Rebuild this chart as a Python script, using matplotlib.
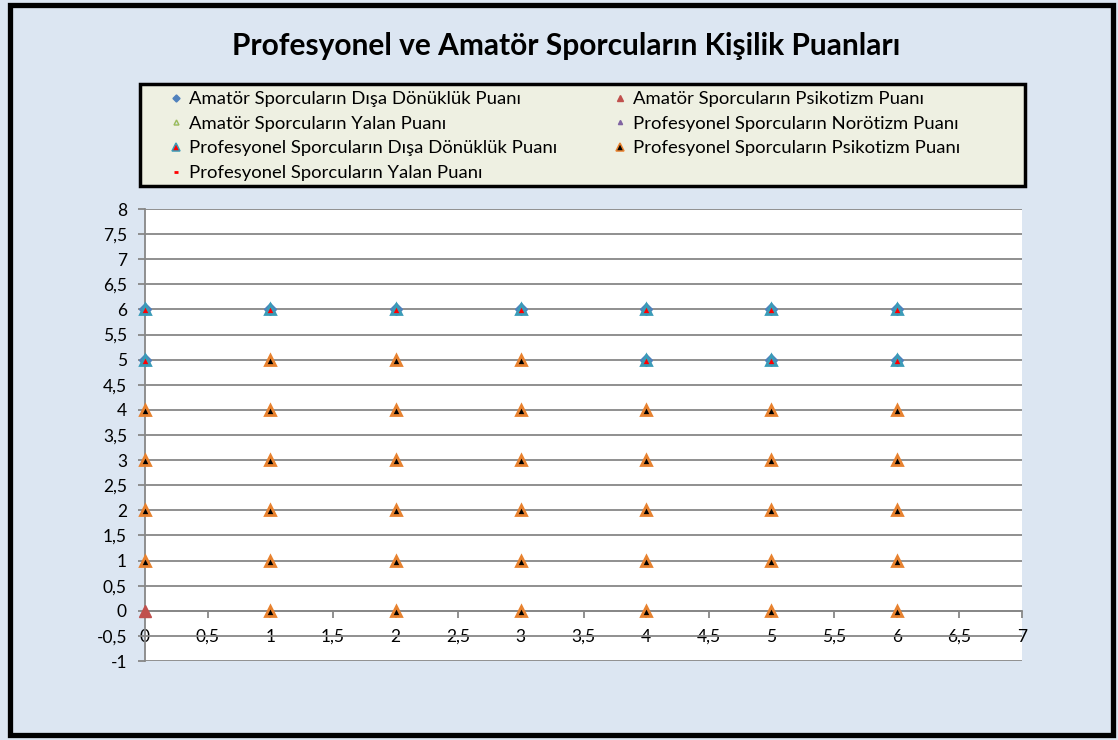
import matplotlib
matplotlib.use("Agg")
import matplotlib.pyplot as plt
from matplotlib.patches import Rectangle
from matplotlib.ticker import MultipleLocator, FuncFormatter

plt.rcParams['font.family'] = ['Lato', 'DejaVu Sans']

title = "Profesyonel ve Amatör Sporcuların Kişilik Puanları"

# series (x = value, y = score)
amator_disa_x = [0, 1, 2, 3, 4, 5, 6, 0, 4, 5, 6]
amator_disa_y = [6, 6, 6, 6, 6, 6, 6, 5, 5, 5, 5]

amator_psik_x = [0]
amator_psik_y = [0]

amator_yalan_x = [0, 1, 2, 3, 4, 5, 6]
amator_yalan_y = [1, 1, 1, 1, 1, 1, 1]

pro_noro_x = [0, 1, 2, 3, 4, 5, 6]
pro_noro_y = [3, 3, 3, 3, 3, 3, 3]

pro_disa_x = [0, 1, 2, 3, 4, 5, 6, 0, 4, 5, 6]
pro_disa_y = [6, 6, 6, 6, 6, 6, 6, 5, 5, 5, 5]

pro_psik_x = [1, 2, 3,
              0, 1, 2, 3, 4, 5, 6,
              0, 1, 2, 3, 4, 5, 6,
              0, 1, 2, 3, 4, 5, 6,
              0, 1, 2, 3, 4, 5, 6,
              1, 2, 3, 4, 5, 6]
pro_psik_y = [5, 5, 5,
              4, 4, 4, 4, 4, 4, 4,
              3, 3, 3, 3, 3, 3, 3,
              2, 2, 2, 2, 2, 2, 2,
              1, 1, 1, 1, 1, 1, 1,
              0, 0, 0, 0, 0, 0]

pro_yalan_x = [0, 1, 2, 3, 4, 5, 6]
pro_yalan_y = [2, 2, 2, 2, 2, 2, 2]

W, H = 1118, 740
fig = plt.figure(figsize=(W / 100, H / 100), dpi=100)
fig.patch.set_facecolor('#dce6f2')
fig.patches.append(Rectangle((0.009, 0.007), 0.9865, 0.986, transform=fig.transFigure,
                             fill=False, edgecolor='black', linewidth=3.8, zorder=10))

fig.text(566 / W, 1 - 46 / H, title, ha='center', va='center', fontsize=21.5,
         fontweight='bold', color='black')

ax = fig.add_axes([145 / W, 1 - 661 / H, 877 / W, 452 / H])
ax.set_facecolor('white')

grid_c = '#878787'
ax.plot(amator_disa_x, amator_disa_y, ls='none', marker='D', ms=6, color='#4F81BD',
        label='Amatör Sporcuların Dışa Dönüklük Puanı', zorder=3, clip_on=False)
ax.plot(amator_yalan_x, amator_yalan_y, ls='none', marker='^', ms=6, mfc='#D7E4EE',
        mec='#9BBB59', mew=1, label='Amatör Sporcuların Yalan Puanı', zorder=3,
        clip_on=False)
ax.plot(pro_noro_x, pro_noro_y, ls='none', marker='^', ms=5, color='#8064A2',
        label='Profesyonel Sporcuların Norötizm Puanı', zorder=3, clip_on=False)
ax.plot(pro_yalan_x, pro_yalan_y, ls='none', marker='_', ms=5, mew=2, color='#FF0000',
        label='Profesyonel Sporcuların Yalan Puanı', zorder=3, clip_on=False)
ax.plot(amator_psik_x, amator_psik_y, ls='none', marker='^', ms=8, color='#C0504D',
        label='Amatör Sporcuların Psikotizm Puanı', zorder=4, clip_on=False)
ax.plot(pro_psik_x, pro_psik_y, ls='none', marker='^', ms=6.5, mfc='black',
        mec='#E8822F', mew=2.0, label='Profesyonel Sporcuların Psikotizm Puanı', zorder=4,
        clip_on=False)
ax.plot(pro_disa_x, pro_disa_y, ls='none', marker='^', ms=6.5, mfc='#FF0000',
        mec='#3A9CB8', mew=2.0, label='Profesyonel Sporcuların Dışa Dönüklük Puanı', zorder=5,
        clip_on=False)

ax.set_xlim(0, 7)
ax.set_ylim(-1, 8)
ax.xaxis.set_major_locator(MultipleLocator(0.5))
ax.yaxis.set_major_locator(MultipleLocator(0.5))
fmt = FuncFormatter(lambda v, p: ('%g' % v).replace('.', ','))
ax.xaxis.set_major_formatter(fmt)
ax.yaxis.set_major_formatter(fmt)

ax.grid(axis='y', color=grid_c, linewidth=1.3)
ax.set_axisbelow(True)
for s in ['top', 'right']:
    ax.spines[s].set_visible(False)
ax.spines['left'].set_color(grid_c)
ax.spines['left'].set_linewidth(1.3)
ax.spines['bottom'].set_position(('data', 0))
ax.spines['bottom'].set_color(grid_c)
ax.spines['bottom'].set_linewidth(1.3)
ax.tick_params(axis='x', direction='out', length=5, width=1.3, color=grid_c,
               labelsize=12.5, pad=8)
ax.tick_params(axis='y', direction='out', length=5, width=1.3, color=grid_c,
               labelsize=12.5, pad=8)

# legend box
fig.patches.append(Rectangle((140 / W, 1 - 186 / H), 885 / W, 102 / H,
                             transform=fig.transFigure, facecolor='#eef0e2',
                             edgecolor='black', linewidth=2.5, zorder=1))

h, l = ax.get_legend_handles_labels()
idx = {name: i for i, name in enumerate(l)}
order = ['Amatör Sporcuların Dışa Dönüklük Puanı',
         'Amatör Sporcuların Yalan Puanı',
         'Profesyonel Sporcuların Dışa Dönüklük Puanı',
         'Profesyonel Sporcuların Yalan Puanı',
         'Amatör Sporcuların Psikotizm Puanı',
         'Profesyonel Sporcuların Norötizm Puanı',
         'Profesyonel Sporcuların Psikotizm Puanı']
leg = fig.legend([h[idx[o]] for o in order], order, ncol=2, loc='upper left',
                 bbox_to_anchor=(169 / W, 1 - 91 / H), fontsize=13.3, frameon=False,
                 borderaxespad=0, borderpad=0, handlelength=0.8, handletextpad=0.3,
                 labelspacing=0.47, columnspacing=3.0, markerscale=0.6)
leg.set_zorder(5)
for lh in leg.legend_handles:
    if lh.get_marker() == '^' and lh.get_markeredgewidth() > 1.5:
        lh.set_markeredgewidth(1.1)
        lh.set_markersize(6)

fig.savefig('out.png', dpi=100, facecolor=fig.get_facecolor())
